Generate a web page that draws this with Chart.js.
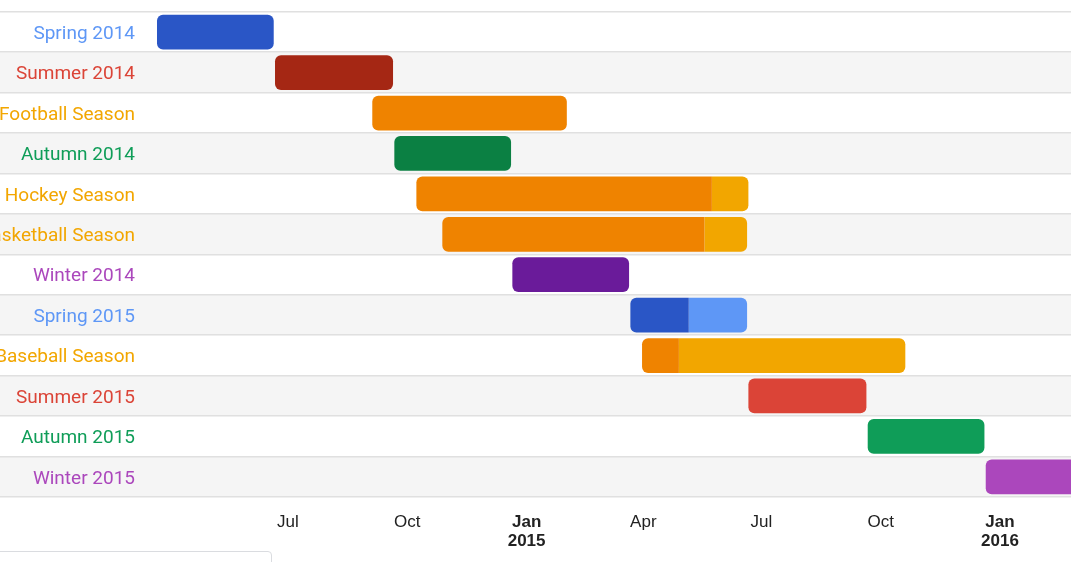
<!DOCTYPE html>
<html>
<head>
<meta charset="utf-8">
<script src="https://cdn.jsdelivr.net/npm/chart.js@4"></script>
<style>
  html, body { margin: 0; padding: 0; background: #fff; overflow: hidden; }
  #wrap { position: relative; width: 1071px; height: 562px; }
  #box { position: absolute; left: -6px; top: 551px; width: 276px; height: 30px;
         border: 1px solid #dadce0; border-radius: 4px; background: #fff; }
</style>
</head>
<body>
<div id="wrap">
  <canvas id="c"></canvas>
  <div id="box"></div>
</div>
<script>
// ---- data ----
const taskNames = ['Spring 2014', 'Summer 2014', 'Football Season', 'Autumn 2014', 'Hockey Season',
  'Basketball Season', 'Winter 2014', 'Spring 2015', 'Baseball Season', 'Summer 2015', 'Autumn 2015', 'Winter 2015'];
const taskResources = ['spring', 'summer', 'sports', 'autumn', 'sports',
  'sports', 'winter', 'spring', 'sports', 'summer', 'autumn', 'winter'];
const startDates = ['2014-03-22', '2014-06-21', '2014-09-04', '2014-09-21', '2014-10-08',
  '2014-10-28', '2014-12-21', '2015-03-22', '2015-03-31', '2015-06-21', '2015-09-21', '2015-12-21'];
const endDates = ['2014-06-20', '2014-09-20', '2015-02-01', '2014-12-20', '2015-06-21',
  '2015-06-20', '2015-03-21', '2015-06-20', '2015-10-20', '2015-09-20', '2015-12-20', '2016-03-21'];
const percentDone = [100, 100, 100, 100, 89, 86, 100, 50, 14, 0, 0, 0];
const tickDates = ['2014-07-01', '2014-10-01', '2015-01-01', '2015-04-01', '2015-07-01', '2015-10-01', '2016-01-01'];
const tickLabels = [['Jul'], ['Oct'], ['Jan', '2015'], ['Apr'], ['Jul'], ['Oct'], ['Jan', '2016']];
const tickBold = [false, false, true, false, false, false, true];
const axisStart = '2014-03-12T18:00:00Z';
const axisEnd = '2016-02-24T18:00:00Z';

// ---- styles ----
const darkColor = { spring: '#2a56c6', summer: '#a52714', autumn: '#0b8043', winter: '#6a1b9a', sports: '#ef8300' };
const lightColor = { spring: '#5e97f6', summer: '#db4437', autumn: '#0f9d58', winter: '#ab47bc', sports: '#f2a600' };

const t = s => Date.parse(s.length === 10 ? s + 'T00:00:00Z' : s);
const starts = startDates.map(t);
const ends = endDates.map(t);
const splits = starts.map((s, i) => s + (ends[i] - s) * percentDone[i] / 100);

const doneData = starts.map((s, i) => percentDone[i] > 0 ? [s, splits[i]] : null);
const restData = ends.map((e, i) => percentDone[i] < 100 ? [splits[i], e] : null);

const R = 6;
const stripePlugin = {
  id: 'stripes',
  beforeDraw(chart) {
    const { ctx, chartArea, scales } = chart;
    const y = scales.y;
    const n = taskNames.length;
    const band = chartArea.height / n;
    ctx.save();
    for (let i = 0; i < n; i++) {
      const c = y.getPixelForValue(i);
      if (i % 2 === 1) {
        ctx.fillStyle = '#f5f5f5';
        ctx.fillRect(0, c - band / 2, chart.width, band);
      }
    }
    ctx.fillStyle = '#e0e0e0';
    for (let i = 0; i <= n; i++) {
      const yy = Math.round(chartArea.top + i * band);
      ctx.fillRect(0, yy - 1, chart.width, 1.5);
    }
    ctx.restore();
  }
};

new Chart(document.getElementById('c'), {
  type: 'bar',
  data: {
    labels: taskNames,
    datasets: [
      {
        label: 'done',
        data: doneData,
        backgroundColor: taskResources.map(r => darkColor[r]),
        grouped: false,
        borderSkipped: false,
        barPercentage: 0.86,
        categoryPercentage: 1,
        borderRadius: ctx => {
          const full = percentDone[ctx.dataIndex] >= 100;
          return { topLeft: R, bottomLeft: R, topRight: full ? R : 0, bottomRight: full ? R : 0 };
        }
      },
      {
        label: 'remaining',
        data: restData,
        backgroundColor: taskResources.map(r => lightColor[r]),
        grouped: false,
        borderSkipped: false,
        barPercentage: 0.86,
        categoryPercentage: 1,
        borderRadius: ctx => {
          const none = percentDone[ctx.dataIndex] <= 0;
          return { topRight: R, bottomRight: R, topLeft: none ? R : 0, bottomLeft: none ? R : 0 };
        }
      }
    ]
  },
  options: {
    indexAxis: 'y',
    responsive: true,
    maintainAspectRatio: false,
    animation: false,
    layout: { padding: { top: 12, left: 0, right: 0, bottom: 0 } },
    plugins: { legend: { display: false }, tooltip: { enabled: false } },
    scales: {
      x: {
        type: 'linear',
        position: 'bottom',
        min: t(axisStart),
        max: t(axisEnd),
        border: { display: false },
        grid: { display: false, drawTicks: false },
        afterBuildTicks: s => { s.ticks = tickDates.map(d => ({ value: t(d) })); },
        afterFit: s => { s.height = 65; s.paddingLeft = 0; s.paddingRight = 0; },
        ticks: {
          autoSkip: false,
          maxRotation: 0,
          padding: 16,
          color: '#222',
          font: c => ({ family: '"Liberation Sans", Arial, sans-serif', size: 17,
                        weight: tickBold[c.index] ? 'bold' : 'normal', lineHeight: 1.12 }),
          callback: (v, i) => tickLabels[i]
        }
      },
      y: {
        type: 'category',
        border: { display: false },
        grid: { display: false, drawTicks: false },
        afterFit: s => { s.width = 145; s.paddingTop = 0; s.paddingBottom = 0; },
        ticks: {
          padding: 10,
          labelOffset: 2,
          autoSkip: false,
          font: { family: 'Roboto, sans-serif', size: 19 },
          color: c => lightColor[taskResources[c.index]]
        }
      }
    }
  },
  plugins: [stripePlugin]
});
</script>
</body>
</html>
